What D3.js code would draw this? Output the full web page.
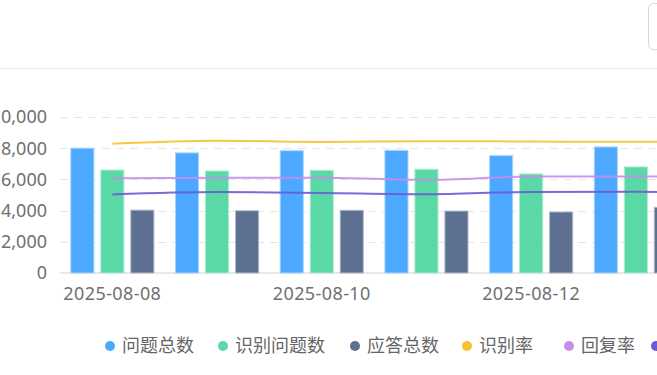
<!DOCTYPE html>
<html>
<head>
<meta charset="utf-8">
<script src="https://cdn.jsdelivr.net/npm/d3@7"></script>
<style>
  body { margin: 0; background: #fff; overflow: hidden; }
  svg { display: block; font-family: "Noto Sans", "Noto Sans CJK SC", sans-serif; }
</style>
</head>
<body>
<script>
// dates on the x axis (chart runs past the right edge of the window)
const dates = ["2025-08-08", "2025-08-09", "2025-08-10", "2025-08-11", "2025-08-12", "2025-08-13", "2025-08-14"]

// bar series (left axis)
const totalQuestions = [8000, 7700, 7840, 7860, 7520, 8080, 7900]
const recognized     = [6600, 6540, 6580, 6650, 6350, 6800, 6650]
const answered       = [4030, 3990, 4020, 3970, 3910, 4210, 4080]

// line series (right axis, percent)
const recogRate  = [82.9, 84.8, 84.0, 84.5, 84.3, 84.1, 84.2]
const replyRate  = [60.7, 61.0, 61.1, 59.7, 61.8, 61.9, 61.4]
const answerRate = [50.4, 51.9, 51.3, 50.5, 52.0, 52.1, 51.6]

const yTicks = [0, 2000, 4000, 6000, 8000, 10000]

const legendNames = ["问题总数", "识别问题数", "应答总数", "识别率", "回复率", "应答率"]
const colors = ["#4DA8FF", "#5AD8A6", "#5D7092", "#F8C22C", "#C58EEA", "#6C5BD4"]

const W = 657, H = 375
const svg = d3.select("body").append("svg")
    .attr("width", W)
    .attr("height", H)

// header strip: divider and a cut-off select box
svg.append("line")
    .attr("x1", 0).attr("x2", W)
    .attr("y1", 68.5).attr("y2", 68.5)
    .style("stroke", "#ebebeb")
svg.append("rect")
    .attr("x", 648.5).attr("y", 3.5)
    .attr("width", 60).attr("height", 46)
    .attr("rx", 5)
    .style("fill", "none")
    .style("stroke", "#d9d9d9")

const plotLeft = 60, plotTop = 117, plotBottom = 273
const step = 104.7
const plotRight = plotLeft + step * dates.length

const x = d3.scaleBand()
    .domain(dates)
    .range([plotLeft, plotRight])
    .paddingInner(0)
    .paddingOuter(0)

const y = d3.scaleLinear().domain([0, 10000]).range([plotBottom, plotTop])
const y2 = d3.scaleLinear().domain([0, 100]).range([plotBottom, plotTop])

// grid
svg.append("g").selectAll("line")
    .data(yTicks.filter(d => d > 0))
    .join("line")
    .attr("x1", plotLeft).attr("x2", plotRight)
    .attr("y1", d => Math.round(y(d)) + 0.5)
    .attr("y2", d => Math.round(y(d)) + 0.5)
    .style("stroke", "#e6e6e6")
    .style("stroke-dasharray", "8,6")

svg.append("line")
    .attr("x1", plotLeft).attr("x2", plotRight)
    .attr("y1", plotBottom).attr("y2", plotBottom)
    .style("stroke", "#e8e8e8")
    .style("stroke-width", 2)

// y labels
svg.append("g").selectAll("text")
    .data(yTicks)
    .join("text")
    .attr("x", 47)
    .attr("y", d => y(d))
    .attr("dy", "0.36em")
    .attr("text-anchor", "end")
    .style("font-size", "18px")
    .style("fill", "#707070")
    .text(d3.format(","))

// x labels, every other date
svg.append("g").selectAll("text")
    .data(dates.filter((d, i) => i % 2 === 0))
    .join("text")
    .attr("x", d => x(d) + x.bandwidth() / 2)
    .attr("y", 299.5)
    .attr("text-anchor", "middle")
    .style("font-size", "18px")
    .style("letter-spacing", "0.4px")
    .style("fill", "#707070")
    .text(d => d)

// bars
const barSeries = [totalQuestions, recognized, answered]
const inner = d3.scaleBand()
    .domain([0, 1, 2])
    .range([10.8, step - 10.8])
    .paddingInner(0.23)

barSeries.forEach((vals, s) => {
    const edge = d3.interpolateRgb(colors[s], "#ffffff")(0.5)
    svg.append("g").selectAll("rect")
        .data(vals)
        .join("rect")
        .attr("x", (d, i) => x(dates[i]) + inner(s))
        .attr("y", d => y(d))
        .attr("width", inner.bandwidth())
        .attr("height", d => plotBottom - y(d))
        .style("fill", colors[s])
        .style("stroke", edge)
        .style("stroke-width", 1)
})

// lines
const lineSeries = [recogRate, replyRate, answerRate]
const line = d3.line()
    .x((d, i) => x(dates[i]) + x.bandwidth() / 2)
    .y(d => y2(d))
    .curve(d3.curveMonotoneX)

lineSeries.forEach((vals, s) => {
    svg.append("path")
        .datum(vals)
        .attr("d", line)
        .style("fill", "none")
        .style("stroke", colors[s + 3])
        .style("stroke-width", 2)
        .style("stroke-opacity", 0.9)
})

// legend
const legendX = [110, 223, 355, 467, 569, 656]
const lg = svg.append("g").selectAll("g")
    .data(legendNames)
    .join("g")
    .attr("transform", (d, i) => `translate(${legendX[i]},346)`)
lg.append("circle")
    .attr("r", 5)
    .style("fill", (d, i) => colors[i])
lg.append("text")
    .attr("x", 12)
    .attr("dy", "0.36em")
    .style("font-size", "18px")
    .style("fill", "#666")
    .text(d => d)
</script>
</body>
</html>
